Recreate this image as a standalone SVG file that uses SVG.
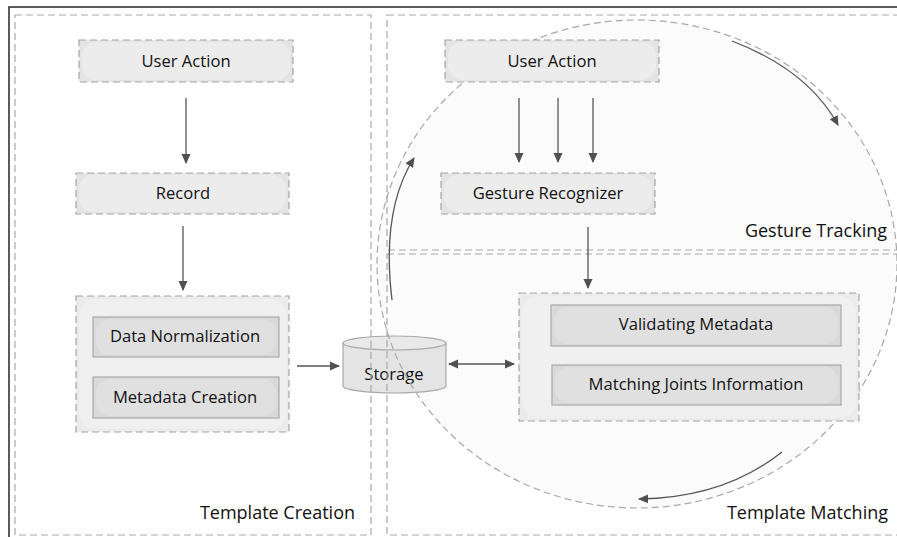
<svg xmlns="http://www.w3.org/2000/svg" width="897" height="537" viewBox="0 0 897 537">
<defs>
<marker id="ah" viewBox="0 0 10 10" refX="9" refY="5" markerWidth="10" markerHeight="10" markerUnits="userSpaceOnUse" orient="auto-start-reverse">
<path d="M0,0.5 L10,5 L0,9.5 Z" fill="#505050"/>
</marker>
<style>
.panel{fill:none;stroke:#a8a8a8;stroke-width:1.2;stroke-dasharray:7 4}
.node{fill:#e4e4e4;stroke:#a4a4a4;stroke-width:1.2;stroke-dasharray:7 4}
.nodein{fill:#ececec}
.grp{fill:#ebebeb;stroke:#a4a4a4;stroke-width:1.2;stroke-dasharray:7 4}
.grpin{fill:#f0f0f0}
.sub{fill:#d9d9d9;stroke:#a8a8a8;stroke-width:1.2}
.subin{fill:#e0e0e0}
.t{font-family:"Open Sans","Noto Sans",sans-serif;font-size:16.6px;font-weight:500;fill:#111;text-anchor:middle}
.lbl{font-family:"Open Sans","Noto Sans",sans-serif;font-size:18px;font-weight:500;fill:#111;text-anchor:end}
.c{fill:none;stroke:#555;stroke-width:1.3}
</style>
</defs>
<rect x="0" y="0" width="897" height="537" fill="#fff"/>
<rect x="9" y="7" width="900" height="540" fill="none" stroke="#333" stroke-width="1.6"/>
<ellipse cx="637" cy="264" rx="260" ry="244" fill="#fbfbfb"/>

<g id="storage">
<path d="M343,343 L343,386 A51.5,7 0 0 0 446,386 L446,343" fill="#e4e4e4" stroke="#a8a8a8" stroke-width="1.2"/>
<ellipse cx="394.5" cy="343" rx="51.5" ry="7" fill="#e9e9e9" stroke="#a8a8a8" stroke-width="1.2"/>
<text class="t" x="394" y="380">Storage</text>
</g>

<g id="panels">
<rect class="panel" x="15" y="15" width="356" height="520"/>
<rect class="panel" x="387" y="15" width="530" height="235"/>
<rect class="panel" x="387" y="254" width="530" height="281"/>
<ellipse cx="637" cy="264" rx="260" ry="244" fill="none" stroke="#a8a8a8" stroke-width="1.2" stroke-dasharray="7 4"/>
</g>

<g id="label-template-creation"><text class="lbl" x="355" y="519">Template Creation</text></g>
<g id="label-gesture-tracking"><text class="lbl" x="887" y="237">Gesture Tracking</text></g>
<g id="label-template-matching"><text class="lbl" x="888" y="519">Template Matching</text></g>

<g id="user-action-left">
<rect class="node" x="79" y="40" width="214" height="42"/>
<rect class="nodein" x="82" y="42" width="208" height="38" rx="14"/>
<text class="t" x="186" y="67">User Action</text>
</g>
<g id="record">
<rect class="node" x="76" y="173" width="213" height="41"/>
<rect class="nodein" x="79" y="175" width="207" height="37" rx="14"/>
<text class="t" x="183" y="199">Record</text>
</g>
<g id="template-creation-group">
<rect class="grp" x="76" y="296" width="213" height="136"/>
<rect class="grpin" x="79" y="299" width="207" height="130" rx="16"/>
<g id="data-normalization">
<rect class="sub" x="93" y="317" width="186" height="40"/>
<rect class="subin" x="96" y="319" width="180" height="36" rx="14"/>
<text class="t" x="185" y="342">Data Normalization</text>
</g>
<g id="metadata-creation">
<rect class="sub" x="93" y="377" width="186" height="41"/>
<rect class="subin" x="96" y="379" width="180" height="37" rx="14"/>
<text class="t" x="185" y="403">Metadata Creation</text>
</g>
</g>

<g id="user-action-right">
<rect class="node" x="445" y="40" width="214" height="42"/>
<rect class="nodein" x="448" y="42" width="208" height="38" rx="14"/>
<text class="t" x="552" y="67">User Action</text>
</g>
<g id="gesture-recognizer">
<rect class="node" x="441" y="173" width="214" height="41"/>
<rect class="nodein" x="444" y="175" width="208" height="37" rx="14"/>
<text class="t" x="548" y="199">Gesture Recognizer</text>
</g>
<g id="template-matching-group">
<rect class="grp" x="519" y="293" width="340" height="128"/>
<rect class="grpin" x="522" y="296" width="334" height="122" rx="16"/>
<g id="validating-metadata">
<rect class="sub" x="551" y="305" width="290" height="41"/>
<rect class="subin" x="554" y="307" width="284" height="37" rx="14"/>
<text class="t" x="696" y="330">Validating Metadata</text>
</g>
<g id="matching-joints">
<rect class="sub" x="552" y="365" width="289" height="40"/>
<rect class="subin" x="555" y="367" width="283" height="36" rx="14"/>
<text class="t" x="696" y="390">Matching Joints Information</text>
</g>
</g>

<g id="connectors">
<line class="c" x1="186" y1="98" x2="186" y2="163" marker-end="url(#ah)"/>
<line class="c" x1="183" y1="226" x2="183" y2="290" marker-end="url(#ah)"/>
<line class="c" x1="297" y1="366" x2="339" y2="366" marker-end="url(#ah)"/>
<line class="c" x1="449" y1="364" x2="514" y2="364" marker-start="url(#ah)" marker-end="url(#ah)"/>
<line class="c" x1="519" y1="98" x2="519" y2="162" marker-end="url(#ah)"/>
<line class="c" x1="558" y1="98" x2="558" y2="162" marker-end="url(#ah)"/>
<line class="c" x1="593" y1="98" x2="593" y2="162" marker-end="url(#ah)"/>
<line class="c" x1="588" y1="227" x2="588" y2="288" marker-end="url(#ah)"/>
<path class="c" d="M392,300 Q381,210 414,158" marker-end="url(#ah)"/>
<path class="c" d="M732,41 Q808,70 838,125" marker-end="url(#ah)"/>
<path class="c" d="M782,452 Q724,498 639,499" marker-end="url(#ah)"/>
</g>
</svg>
